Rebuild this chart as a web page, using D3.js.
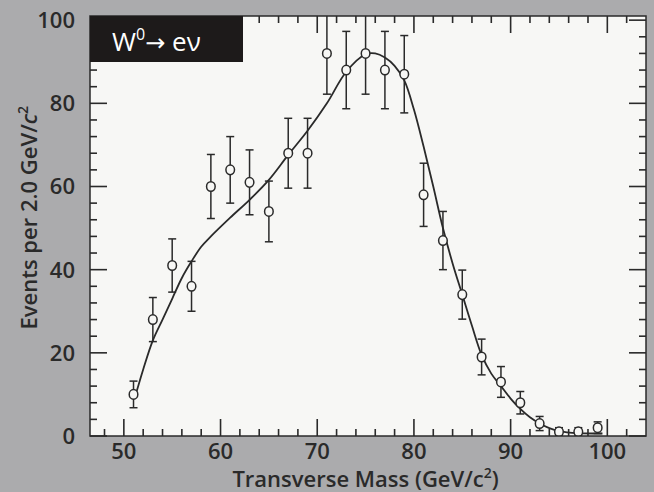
<!DOCTYPE html>
<html lang="en">
<head>
<meta charset="UTF-8">
<title>W to e nu transverse mass</title>
<script src="https://d3js.org/d3.v7.min.js"></script>
<style>
  body { margin: 0; background: #ababad; }
  svg { display: block; }
  .lbl { font-family: "Open Sans", sans-serif; font-weight: 600; font-size: 22px; fill: #2a2a2a; }
  .title { font-family: "Open Sans", sans-serif; font-weight: 600; font-size: 22px; fill: #2a2a2a; }
</style>
</head>
<body>
<svg width="654" height="492"></svg>
<script>
// measured points (bin centres, counts, errors)
const mass = [51, 53, 55, 57, 59, 61, 63, 65, 67, 69, 71, 73, 75, 77, 79, 81, 83, 85, 87, 89, 91, 93, 95, 97, 99];
const events = [10, 28, 41, 36, 60, 64, 61, 54, 68, 68, 92, 88, 92, 88, 87, 58, 47, 34, 19, 13, 8, 3, 1, 1, 2];
const errors = [3.2, 5.3, 6.4, 6, 7.7, 8, 7.8, 7.3, 8.4, 8.4, 9.8, 9.3, 9.8, 9.3, 9.3, 7.6, 7, 5.9, 4.3, 3.7, 2.7, 1.7, 1, 1, 1.4];

// fitted curve
const fitMass = [51.3, 52, 53, 54, 55, 56, 57, 58, 59, 61, 63, 65, 67, 69, 71, 73, 75, 76, 77, 78, 79, 80, 81, 82, 83, 84, 85, 86, 87, 88, 89, 90, 91, 92, 93, 94, 95, 97, 99.5];
const fitEvents = [10.5, 16, 23, 28, 33, 38, 42, 45.5, 48, 52.5, 56.8, 61.6, 67.6, 73.4, 80, 87.6, 91.8, 92, 91, 89, 85.5, 78.5, 69.6, 60, 50, 41.5, 34, 26.5, 19.5, 15, 12, 9, 6.5, 4.5, 3, 1.9, 1.2, 0.7, 0.6];

const xMajor = [50, 60, 70, 80, 90, 100];
const yMajor = [0, 20, 40, 60, 80, 100];
const xMinor = d3.range(48, 104, 2).filter(v => !xMajor.includes(v));
const yMinor = d3.range(4, 101, 4).filter(v => !yMajor.includes(v));

const W = 654, H = 492;
const m = { left: 90, right: 8, top: 16, bottom: 56 };
const iw = W - m.left - m.right, ih = H - m.top - m.bottom;
const ink = "#2a2a2a";

const svg = d3.select("svg");
const x = d3.scaleLinear().domain([46.5, 104]).range([0, iw]);
const y = d3.scaleLinear().domain([0, 101]).range([ih, 0]);

const g = svg.append("g").attr("transform", `translate(${m.left},${m.top})`);

g.append("rect").attr("width", iw).attr("height", ih).attr("fill", "#f7f7f5");

// clip for things that run off the top
g.append("clipPath").attr("id", "clip").append("rect").attr("width", iw).attr("height", ih);
const plot = g.append("g").attr("clip-path", "url(#clip)");

// fit
const fit = fitMass.map((v, i) => [v, fitEvents[i]]);
plot.append("path").datum(fit)
  .attr("fill", "none").attr("stroke", ink).attr("stroke-width", 1.8)
  .attr("d", d3.line().x(d => x(d[0])).y(d => y(d[1])).curve(d3.curveCatmullRom.alpha(0.5)));

// error bars + markers
const pts = mass.map((v, i) => ({ m: v, e: events[i], s: errors[i] }));
const cap = 4;
const eb = plot.append("g").attr("stroke", ink).attr("stroke-width", 1.5).attr("fill", "none");
pts.forEach(d => {
  const x0 = x(d.m), y1 = y(d.e + d.s), y2 = y(d.e - d.s);
  eb.append("line").attr("x1", x0).attr("x2", x0).attr("y1", y1).attr("y2", y2);
  eb.append("line").attr("x1", x0 - cap).attr("x2", x0 + cap).attr("y1", y1).attr("y2", y1);
  eb.append("line").attr("x1", x0 - cap).attr("x2", x0 + cap).attr("y1", y2).attr("y2", y2);
});
plot.append("g").selectAll("ellipse").data(pts).join("ellipse")
  .attr("cx", d => x(d.m)).attr("cy", d => y(d.e))
  .attr("rx", 4.3).attr("ry", 4.8)
  .attr("fill", "#f7f7f5").attr("stroke", ink).attr("stroke-width", 1.5);

// inward ticks on all four sides (major long, minor short)
const tickLines = [];
xMajor.forEach(v => tickLines.push({ h: false, v, len: 17, edge: 0 }, { h: false, v, len: 17, edge: 1 }));
xMinor.forEach(v => tickLines.push({ h: false, v, len: 7, edge: 0 }, { h: false, v, len: 7, edge: 1 }));
yMajor.forEach(v => tickLines.push({ h: true, v, len: 17, edge: 0 }, { h: true, v, len: 17, edge: 1 }));
yMinor.forEach(v => tickLines.push({ h: true, v, len: 7, edge: 0 }, { h: true, v, len: 7, edge: 1 }));
g.append("g").selectAll("line").data(tickLines).join("line")
  .attr("stroke", ink).attr("stroke-width", 1.6)
  .attr("x1", d => d.h ? (d.edge ? iw : 0) : x(d.v))
  .attr("x2", d => d.h ? (d.edge ? iw - d.len : d.len) : x(d.v))
  .attr("y1", d => d.h ? y(d.v) : (d.edge ? 0 : ih))
  .attr("y2", d => d.h ? y(d.v) : (d.edge ? d.len : ih - d.len));

g.append("g").selectAll("text").data(xMajor).join("text").attr("class", "lbl")
  .attr("x", d => x(d)).attr("y", ih + 23).attr("text-anchor", "middle").text(d => d);
g.append("g").selectAll("text").data(yMajor).join("text").attr("class", "lbl")
  .attr("x", -15).attr("y", d => y(d) + 8).attr("text-anchor", "end").text(d => d);

// frame
g.append("rect").attr("width", iw).attr("height", ih)
  .attr("fill", "none").attr("stroke", ink).attr("stroke-width", 1.5);

// label box
g.append("rect").attr("x", 0).attr("y", 0).attr("width", 153).attr("height", 46).attr("fill", "#1d1a1a");
const lab = g.append("text").attr("x", 22).attr("y", 35)
  .attr("fill", "#ffffff").attr("font-family", "'Open Sans', sans-serif").attr("font-size", 26);
lab.append("tspan").text("W");
lab.append("tspan").attr("dy", -11).attr("font-size", 16).text("0");
lab.append("tspan").attr("dy", 11).attr("font-family", "'DejaVu Sans', sans-serif").attr("font-size", 24).text("\u2192");
lab.append("tspan").text(" e\u03BD");

// axis titles
const xt = svg.append("text").attr("class", "title").attr("text-anchor", "middle")
  .attr("x", m.left + x(75)).attr("y", 487);
xt.append("tspan").text("Transverse Mass (GeV/");
xt.append("tspan").text("c");
xt.append("tspan").attr("dy", -9).attr("font-size", 14).text("2");
xt.append("tspan").attr("dy", 9).text(")");

const yt = svg.append("text").attr("class", "title").attr("text-anchor", "middle")
  .attr("transform", `translate(37,${m.top + y(52.5)}) rotate(-90)`);
yt.append("tspan").text("Events per 2.0 GeV/");
yt.append("tspan").attr("font-style", "italic").text("c");
yt.append("tspan").attr("dy", -9).attr("font-size", 14).text("2");
</script>
</body>
</html>
